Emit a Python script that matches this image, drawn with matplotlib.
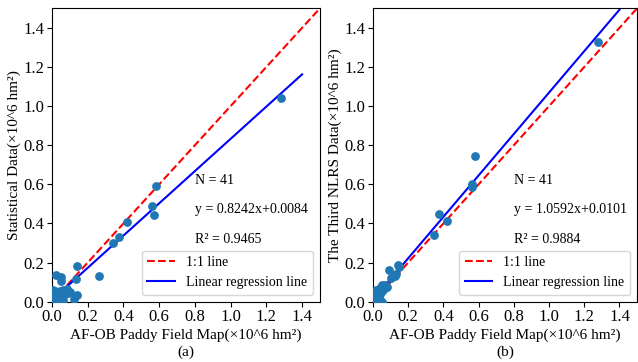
import numpy as np
import matplotlib.pyplot as plt

plt.rcParams['font.family'] = ['Liberation Serif', 'DejaVu Serif']

# panel (a): AF-OB map vs statistical data
xa = [1.28, 0.58, 0.56, 0.57, 0.42, 0.375, 0.34, 0.265, 0.14, 0.135,
      0.14, 0.125, 0.022, 0.05, 0.05, 0.09, 0.083, 0.06, 0.045, 0.04,
      0.03, 0.01, 0.005, 0.015, 0.02, 0.035, 0.045, 0.055, 0.01, 0.005,
      0.025, 0.06, 0.07, 0.002, 0.012, 0.028, 0.04, 0.018, 0.05, 0.008, 0.1]
ya = [1.04, 0.59, 0.49, 0.445, 0.405, 0.33, 0.30, 0.13, 0.185, 0.115,
      0.035, 0.015, 0.135, 0.125, 0.105, 0.045, 0.065, 0.06, 0.055, 0.035,
      0.02, 0.05, 0.06, 0.03, 0.01, 0.005, 0.02, 0.03, 0.015, 0.005,
      0.045, 0.01, 0.04, 0.03, 0.0, 0.028, 0.01, 0.055, 0.04, 0.025, 0.05]

# panel (b): AF-OB map vs third NLRS data
xb = [1.28, 0.58, 0.565, 0.565, 0.42, 0.375, 0.345, 0.14, 0.145, 0.13,
      0.125, 0.093, 0.08, 0.05, 0.045, 0.035, 0.03, 0.05, 0.04, 0.01,
      0.005, 0.015, 0.02, 0.025, 0.01, 0.03, 0.06, 0.065, 0.02, 0.002,
      0.04, 0.055, 0.008, 0.012, 0.035, 0.045, 0.018, 0.028, 0.006, 0.07, 0.1]
yb = [1.33, 0.745, 0.60, 0.585, 0.41, 0.45, 0.34, 0.19, 0.175, 0.14,
      0.13, 0.16, 0.075, 0.085, 0.075, 0.065, 0.055, 0.0, 0.01, 0.04,
      0.02, 0.03, 0.045, 0.02, 0.01, 0.03, 0.07, 0.08, 0.06, 0.005,
      0.04, 0.06, 0.015, 0.025, 0.045, 0.05, 0.015, 0.04, 0.03, 0.085, 0.12]

fits = [(0.8242, 0.0084, 0.9465), (1.0592, 0.0101, 0.9884)]
ylabels = ['Statistical Data(×10^6 hm²)', 'The Third NLRS Data(×10^6 hm²)']
tags = ['(a)', '(b)']

fig = plt.figure(figsize=(6.38, 3.62), dpi=100)
rects = [[0.0815, 0.1666, 0.42, 0.8105], [0.5846, 0.1666, 0.414, 0.8105]]

for i, (xs, ys) in enumerate([(xa, ya), (xb, yb)]):
    ax = fig.add_axes(rects[i])
    k, b, r2 = fits[i]
    ax.scatter(xs, ys, s=28, color='#1f77b4', zorder=3)
    one = np.array([0, 1.5])
    ax.plot(one, one, 'r--', lw=1.5, label='1:1 line')
    fx = np.array([0, 1.4])
    ax.plot(fx, k * fx + b, 'b-', lw=1.5, label='Linear regression line')
    ax.set_xlim(0, 1.5)
    ax.set_ylim(0, 1.5)
    ax.set_xticks(np.arange(0, 1.41, 0.2))
    ax.set_yticks(np.arange(0, 1.41, 0.2))
    ax.tick_params(labelsize=12, pad=2)
    ax.set_xlabel('AF-OB Paddy Field Map(×10^6 hm²)', fontsize=11, labelpad=2)
    ax.set_ylabel(ylabels[i], fontsize=11, labelpad=2)
    ax.text(0.8, 0.62, 'N = 41', fontsize=10, va='center')
    ax.text(0.8, 0.47, 'y = %.4fx+%.4f' % (k, b), fontsize=10, va='center')
    ax.text(0.8, 0.32, 'R² = %.4f' % r2, fontsize=10, va='center')
    ax.legend(loc='lower right', fontsize=10)
    ax.text(0.5, -0.172, tags[i], transform=ax.transAxes, ha='center',
            va='center', fontsize=11)

fig.savefig('out.png', dpi=100)
